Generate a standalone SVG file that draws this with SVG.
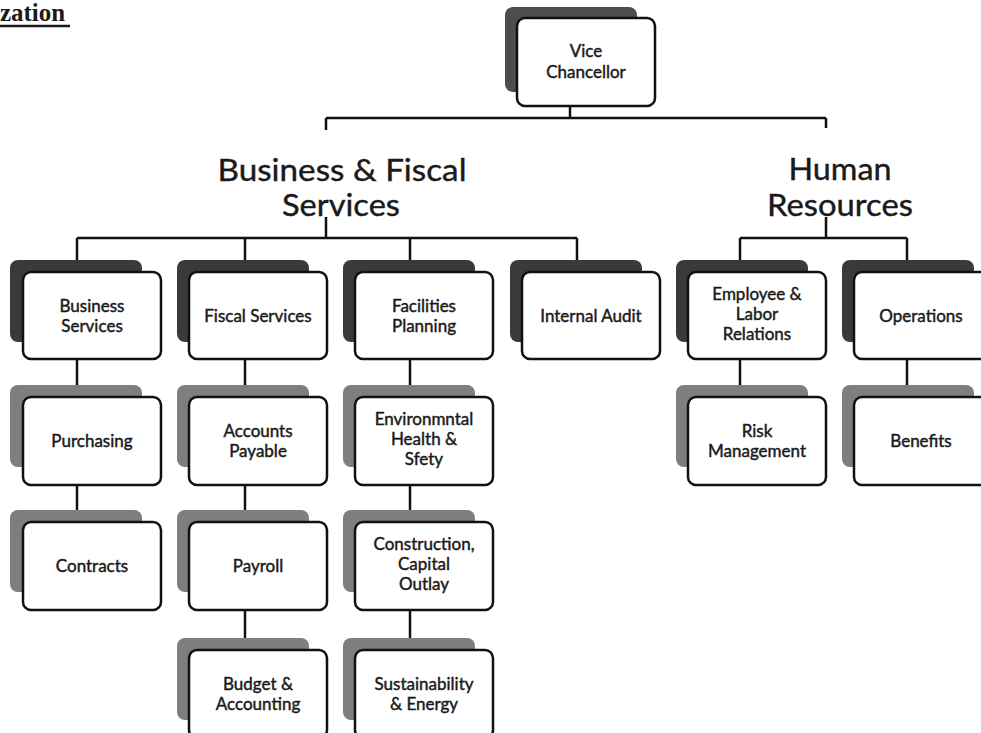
<svg xmlns="http://www.w3.org/2000/svg" width="981" height="733" viewBox="0 0 981 733">
<style>
.bg{fill:#fff}
.back1{fill:#3a3a3a}
.back0{fill:#4d4d4d}
.back2{fill:#7e7e7e}
.front{fill:#fff;stroke:#111;stroke-width:2.5}
.t{font-family:Lato,"Open Sans","Liberation Sans",sans-serif;font-size:17px;fill:#1a1a1a;stroke:#1a1a1a;stroke-width:0.45;text-anchor:middle}
.h{font-family:Lato,"Open Sans","Liberation Sans",sans-serif;font-size:31px;fill:#1a1a1a;stroke:#1a1a1a;stroke-width:0.4;text-anchor:middle}
.c{fill:none;stroke:#111;stroke-width:2.5}
</style>
<rect class="bg" x="0" y="0" width="981" height="733"/>
<g id="header">
<text x="0" y="21" font-family="'Liberation Serif',serif" font-weight="bold" font-size="25" fill="#1a1a1a" textLength="65" lengthAdjust="spacingAndGlyphs">zation</text>
<line x1="0" y1="26" x2="70" y2="26" stroke="#1a1a1a" stroke-width="2.5"/>
</g>
<g id="connectors">
<path class="c" d="M570 106V118M326 118H826M326 118V130M826 118V128"/>
<path class="c" d="M326 217V238M77 238H577M77 238V260M245 238V260M410 238V260M577 238V260"/>
<path class="c" d="M826 217V238M740 238H907M740 238V260M907 238V260"/>
<path class="c" d="M77 359V385M77 485V510"/>
<path class="c" d="M245 359V385M245 485V510M245 610V638"/>
<path class="c" d="M410 359V385M410 485V510M410 610V638"/>
<path class="c" d="M740 359V385M907 359V385"/>
</g>
<g id="vice-chancellor">
<rect class="back0" x="505" y="7" width="132" height="85" rx="8"/>
<rect class="front" x="517" y="18" width="138" height="88" rx="8"/>
<text class="t" x="586" y="57">Vice</text>
<text class="t" x="586" y="78">Chancellor</text>
</g>
<g id="title-bfs">
<text class="h" x="342" y="181" textLength="249" lengthAdjust="spacingAndGlyphs">Business  &amp; Fiscal</text>
<text class="h" x="341" y="216" textLength="118" lengthAdjust="spacingAndGlyphs">Services</text>
</g>
<g id="title-hr">
<text class="h" x="840" y="180" textLength="103" lengthAdjust="spacingAndGlyphs">Human</text>
<text class="h" x="840" y="216" textLength="146" lengthAdjust="spacingAndGlyphs">Resources</text>
</g>
<g id="business-services">
<rect class="back1" x="10" y="260" width="132" height="82" rx="8"/>
<rect class="front" x="23" y="272" width="138" height="87" rx="8"/>
<text class="t" x="92" y="312">Business</text>
<text class="t" x="92" y="332">Services</text>
</g>
<g id="fiscal-services">
<rect class="back1" x="177" y="260" width="132" height="82" rx="8"/>
<rect class="front" x="189" y="272" width="138" height="87" rx="8"/>
<text class="t" x="258" y="322">Fiscal Services</text>
</g>
<g id="facilities-planning">
<rect class="back1" x="343" y="260" width="132" height="82" rx="8"/>
<rect class="front" x="355" y="272" width="138" height="87" rx="8"/>
<text class="t" x="424" y="312">Facilities</text>
<text class="t" x="424" y="332">Planning</text>
</g>
<g id="internal-audit">
<rect class="back1" x="510" y="260" width="132" height="82" rx="8"/>
<rect class="front" x="522" y="272" width="138" height="87" rx="8"/>
<text class="t" x="591" y="322">Internal Audit</text>
</g>
<g id="employee-labor">
<rect class="back1" x="676" y="260" width="132" height="82" rx="8"/>
<rect class="front" x="688" y="272" width="138" height="87" rx="8"/>
<text class="t" x="757" y="300">Employee &amp;</text>
<text class="t" x="757" y="320">Labor</text>
<text class="t" x="757" y="340">Relations</text>
</g>
<g id="operations">
<rect class="back1" x="842" y="260" width="132" height="82" rx="8"/>
<rect class="front" x="854" y="272" width="138" height="87" rx="8"/>
<text class="t" x="921" y="322">Operations</text>
</g>
<g id="purchasing">
<rect class="back2" x="10" y="385" width="132" height="82" rx="8"/>
<rect class="front" x="23" y="397" width="138" height="88" rx="8"/>
<text class="t" x="92" y="447">Purchasing</text>
</g>
<g id="contracts">
<rect class="back2" x="10" y="510" width="132" height="82" rx="8"/>
<rect class="front" x="23" y="522" width="138" height="88" rx="8"/>
<text class="t" x="92" y="572">Contracts</text>
</g>
<g id="accounts-payable">
<rect class="back2" x="177" y="385" width="132" height="82" rx="8"/>
<rect class="front" x="189" y="397" width="138" height="88" rx="8"/>
<text class="t" x="258" y="437">Accounts</text>
<text class="t" x="258" y="457">Payable</text>
</g>
<g id="payroll">
<rect class="back2" x="177" y="510" width="132" height="82" rx="8"/>
<rect class="front" x="189" y="522" width="138" height="88" rx="8"/>
<text class="t" x="258" y="572">Payroll</text>
</g>
<g id="budget-accounting">
<rect class="back2" x="177" y="638" width="132" height="82" rx="8"/>
<rect class="front" x="189" y="650" width="138" height="88" rx="8"/>
<text class="t" x="258" y="690">Budget &amp;</text>
<text class="t" x="258" y="710">Accounting</text>
</g>
<g id="environmental">
<rect class="back2" x="343" y="385" width="132" height="82" rx="8"/>
<rect class="front" x="355" y="397" width="138" height="88" rx="8"/>
<text class="t" x="424" y="425">Environmntal</text>
<text class="t" x="424" y="445">Health &amp;</text>
<text class="t" x="424" y="465">Sfety</text>
</g>
<g id="construction">
<rect class="back2" x="343" y="510" width="132" height="82" rx="8"/>
<rect class="front" x="355" y="522" width="138" height="88" rx="8"/>
<text class="t" x="424" y="550">Construction,</text>
<text class="t" x="424" y="570">Capital</text>
<text class="t" x="424" y="590">Outlay</text>
</g>
<g id="sustainability">
<rect class="back2" x="343" y="638" width="132" height="82" rx="8"/>
<rect class="front" x="355" y="650" width="138" height="88" rx="8"/>
<text class="t" x="424" y="690">Sustainability</text>
<text class="t" x="424" y="710">&amp; Energy</text>
</g>
<g id="risk-management">
<rect class="back2" x="676" y="385" width="132" height="82" rx="8"/>
<rect class="front" x="688" y="397" width="138" height="88" rx="8"/>
<text class="t" x="757" y="437">Risk</text>
<text class="t" x="757" y="457">Management</text>
</g>
<g id="benefits">
<rect class="back2" x="842" y="385" width="132" height="82" rx="8"/>
<rect class="front" x="854" y="397" width="138" height="88" rx="8"/>
<text class="t" x="921" y="447">Benefits</text>
</g>
</svg>
